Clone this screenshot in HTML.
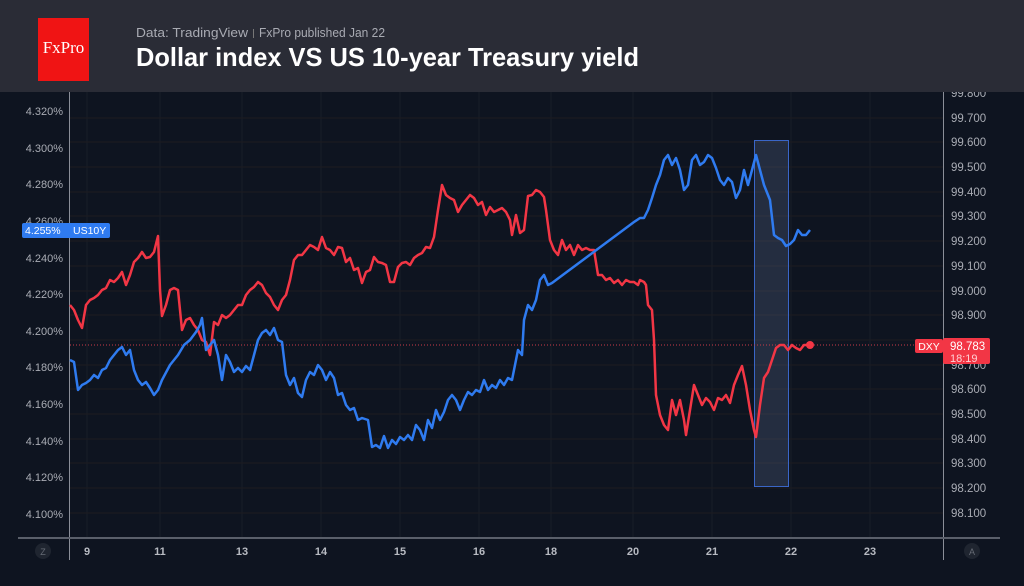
<!DOCTYPE html>
<html><head><meta charset="utf-8"><style>
html,body{margin:0;padding:0;background:#0f1420;}
body{width:1024px;height:586px;overflow:hidden;position:relative;font-family:"Liberation Sans",sans-serif;}
</style></head><body>
<svg width="1024" height="586" xmlns="http://www.w3.org/2000/svg" style="position:absolute;left:0;top:0">
<rect x="0" y="0" width="1024" height="586" fill="#0e1420"/>
<g stroke="#181e29" stroke-width="1">
<line x1="87" y1="92" x2="87" y2="538"/><line x1="160" y1="92" x2="160" y2="538"/><line x1="242" y1="92" x2="242" y2="538"/><line x1="321" y1="92" x2="321" y2="538"/><line x1="400" y1="92" x2="400" y2="538"/><line x1="479" y1="92" x2="479" y2="538"/><line x1="551" y1="92" x2="551" y2="538"/><line x1="633" y1="92" x2="633" y2="538"/><line x1="712" y1="92" x2="712" y2="538"/><line x1="791" y1="92" x2="791" y2="538"/><line x1="870" y1="92" x2="870" y2="538"/>
</g>
<g stroke="#1d1b20" stroke-width="1">
<line x1="70" y1="118" x2="943" y2="118"/><line x1="70" y1="142" x2="943" y2="142"/><line x1="70" y1="167" x2="943" y2="167"/><line x1="70" y1="192" x2="943" y2="192"/><line x1="70" y1="216" x2="943" y2="216"/><line x1="70" y1="241" x2="943" y2="241"/><line x1="70" y1="266" x2="943" y2="266"/><line x1="70" y1="291" x2="943" y2="291"/><line x1="70" y1="315" x2="943" y2="315"/><line x1="70" y1="340" x2="943" y2="340"/><line x1="70" y1="365" x2="943" y2="365"/><line x1="70" y1="389" x2="943" y2="389"/><line x1="70" y1="414" x2="943" y2="414"/><line x1="70" y1="439" x2="943" y2="439"/><line x1="70" y1="463" x2="943" y2="463"/><line x1="70" y1="488" x2="943" y2="488"/><line x1="70" y1="513" x2="943" y2="513"/>
</g>
<line x1="69.5" y1="92" x2="69.5" y2="560" stroke="#8a8e98"/>
<line x1="943.5" y1="92" x2="943.5" y2="560" stroke="#8a8e98"/>
<line x1="18" y1="538" x2="1000" y2="538" stroke="#5a5f6a" stroke-width="2"/>
<g fill="#a9acb4" font-size="11" text-anchor="end">
<text x="63" y="115">4.320%</text><text x="63" y="152">4.300%</text><text x="63" y="188">4.280%</text><text x="63" y="225">4.260%</text><text x="63" y="262">4.240%</text><text x="63" y="298">4.220%</text><text x="63" y="335">4.200%</text><text x="63" y="371">4.180%</text><text x="63" y="408">4.160%</text><text x="63" y="445">4.140%</text><text x="63" y="481">4.120%</text><text x="63" y="518">4.100%</text>
</g>
<g fill="#a9acb4" font-size="11.5">
<text x="951" y="97">99.800</text><text x="951" y="122">99.700</text><text x="951" y="146">99.600</text><text x="951" y="171">99.500</text><text x="951" y="196">99.400</text><text x="951" y="220">99.300</text><text x="951" y="245">99.200</text><text x="951" y="270">99.100</text><text x="951" y="295">99.000</text><text x="951" y="319">98.900</text><text x="951" y="369">98.700</text><text x="951" y="393">98.600</text><text x="951" y="418">98.500</text><text x="951" y="443">98.400</text><text x="951" y="467">98.300</text><text x="951" y="492">98.200</text><text x="951" y="517">98.100</text>
</g>
<g fill="#b8bbc2" font-size="11" font-weight="bold" text-anchor="middle">
<text x="87" y="555">9</text><text x="160" y="555">11</text><text x="242" y="555">13</text><text x="321" y="555">14</text><text x="400" y="555">15</text><text x="479" y="555">16</text><text x="551" y="555">18</text><text x="633" y="555">20</text><text x="712" y="555">21</text><text x="791" y="555">22</text><text x="870" y="555">23</text>
</g>
<circle cx="43" cy="551" r="8" fill="#1f2530"/><text x="43" y="555" fill="#666b75" font-size="9" text-anchor="middle">Z</text>
<circle cx="972" cy="551" r="8" fill="#1f2530"/><text x="972" y="555" fill="#666b75" font-size="9" text-anchor="middle">A</text>
<rect x="754.5" y="140.5" width="34" height="346" fill="rgba(90,105,140,0.3)" stroke="#3a66c8" stroke-width="1"/>
<line x1="70" y1="345" x2="943" y2="345" stroke="#c83a48" stroke-width="1" stroke-dasharray="1,2"/>
<polyline fill="none" stroke="#f23645" stroke-width="2.5" stroke-linejoin="round" points="70,305 74,310 78,320 82,328 86,305 90,300 94,298 98,295 102,290 106,288 110,280 114,282 118,278 122,272 126,285 130,275 134,262 138,258 142,252 146,258 150,257 154,252 158,236 160,290 162,316 166,305 170,290 174,288 178,290 182,330 186,320 190,318 194,325 198,330 202,340 206,342 210,355 214,322 218,325 222,315 226,318 230,315 234,310 238,305 242,305 246,295 250,290 254,287 258,282 262,285 266,293 270,297 274,305 278,310 282,300 286,295 290,280 294,260 298,255 302,255 306,250 310,245 314,247 318,250 322,237 326,248 330,250 334,255 338,247 342,248 346,262 350,258 354,270 358,268 362,283 366,272 370,270 374,257 378,262 382,263 386,265 390,282 394,282 398,267 402,263 406,262 410,265 414,258 418,255 422,253 426,247 430,248 434,237 438,210 442,185 446,195 450,198 454,200 458,212 462,205 466,200 470,195 474,198 478,205 482,202 486,215 490,207 494,212 498,210 502,208 506,212 510,220 512,235 516,215 520,233 524,230 528,196 532,195 536,190 540,192 544,197 546,210 550,240 554,250 558,255 562,240 566,250 570,245 574,255 578,245 582,250 586,248 590,250 594,250 598,275 602,275 606,280 610,278 614,283 618,280 622,285 626,280 630,282 634,282 638,285 640,280 644,282 646,285 648,305 652,310 654,340 656,395 660,415 664,425 668,430 672,400 676,415 680,400 684,420 686,435 690,410 694,385 698,395 702,405 706,398 710,402 714,410 718,398 722,400 726,395 730,403 734,385 738,375 742,366 746,385 750,410 754,430 756,437 760,405 764,378 768,372 772,360 776,348 780,345 784,345 788,350 792,345 796,348 800,350 804,345 810,345"/>
<circle cx="810" cy="345" r="4" fill="#f23645"/>
<polyline fill="none" stroke="#2f7bf0" stroke-width="2.5" stroke-linejoin="round" points="70,360 74,362 78,390 82,385 86,383 90,380 94,375 98,378 102,370 106,368 110,360 114,355 118,350 122,347 126,355 130,350 134,370 138,380 142,385 146,382 150,388 154,395 158,390 162,380 170,365 178,355 184,345 190,340 196,332 200,325 202,318 206,350 210,345 214,340 218,355 222,380 226,355 230,362 234,372 238,368 242,372 246,366 250,370 254,355 258,340 262,333 266,330 270,335 274,328 278,340 282,342 286,375 290,385 294,378 298,393 302,397 306,380 310,372 314,375 318,365 322,370 326,380 330,372 334,378 338,395 342,393 346,405 350,410 354,408 358,420 362,418 368,420 372,447 376,445 380,448 384,436 388,448 392,440 396,444 400,437 404,440 408,435 412,440 416,425 420,430 424,440 428,420 432,428 436,410 440,420 444,412 448,400 452,395 456,400 460,410 464,400 468,392 472,395 476,390 480,392 484,380 488,390 492,385 496,388 500,380 504,385 508,378 512,380 516,360 518,350 522,355 524,320 528,305 532,310 536,300 540,280 544,275 548,285 552,283 556,280 630,225 634,222 640,218 644,218 648,210 652,198 656,185 660,175 664,160 668,155 672,165 676,158 680,170 684,190 688,185 692,160 696,155 700,165 704,162 708,155 712,158 716,168 720,180 724,185 728,178 732,182 736,198 740,190 744,170 748,185 752,170 756,155 760,170 764,185 766,190 770,200 774,235 778,238 782,240 786,246 790,244 794,240 798,230 802,235 806,235 810,230"/>
<rect x="22" y="223" width="88" height="15" rx="2" fill="#2f7bf0"/>
<text x="25" y="234" fill="#fff" font-size="10.5">4.255%</text>
<text x="73" y="234" fill="#fff" font-size="10.5">US10Y</text>
<rect x="915" y="339" width="28" height="14" rx="2" fill="#f23645"/>
<text x="929" y="350" fill="#fff" font-size="10.5" text-anchor="middle">DXY</text>
<rect x="943" y="338" width="47" height="26" rx="2" fill="#f23645"/>
<text x="950" y="350" fill="#fff" font-size="11.5">98.783</text>
<text x="950" y="362" fill="#ffd0d4" font-size="11">18:19</text>
<rect x="0" y="0" width="1024" height="92" fill="#2a2c36"/>
<rect x="38" y="18" width="51" height="63" fill="#f01414"/>
<text x="63.5" y="53" fill="#fff" font-family="Liberation Serif,serif" font-size="17" text-anchor="middle">FxPro</text>
<text x="136" y="37" fill="#a9abb3" font-size="13" textLength="112" lengthAdjust="spacingAndGlyphs">Data: TradingView</text>
<rect x="253" y="29" width="1" height="9" fill="#777"/>
<text x="259" y="37" fill="#a9abb3" font-size="13" textLength="126" lengthAdjust="spacingAndGlyphs">FxPro published Jan 22</text>
<text x="136" y="66" fill="#ffffff" font-size="26" font-weight="bold" textLength="503" lengthAdjust="spacingAndGlyphs">Dollar index VS US 10-year Treasury yield</text>
</svg>
</body></html>
